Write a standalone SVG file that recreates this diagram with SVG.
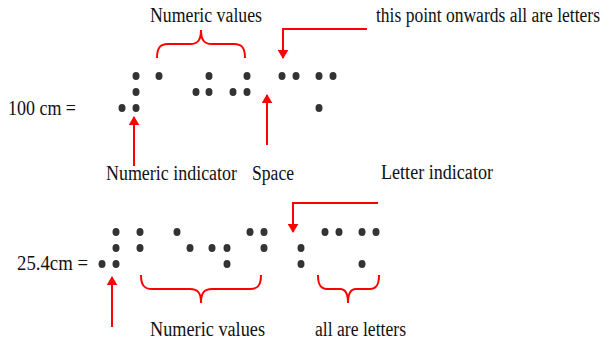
<svg xmlns="http://www.w3.org/2000/svg" width="605" height="342" viewBox="0 0 605 342">
<style>
.t{font-family:"Liberation Serif","Times New Roman",serif;font-size:20.5px;fill:#111}
.d{fill:#333}
.r{fill:none;stroke:#ff0000;stroke-width:2}
.a{fill:none;stroke:#ff0000;stroke-width:2;marker-end:url(#ah)}
</style>
<defs>
<marker id="ah" viewBox="0 0 10 12" refX="9" refY="6" markerWidth="9" markerHeight="11" markerUnits="userSpaceOnUse" orient="auto">
<path d="M0,0 L10,6 L0,12 z" fill="#ff0000"/>
</marker>
</defs>
<rect width="605" height="342" fill="#fff"/>
<g id="labels">
<text class="t" x="150" y="22" textLength="112" lengthAdjust="spacingAndGlyphs">Numeric values</text>
<text class="t" transform="translate(376,22) scale(1,1.17)" x="0" y="0" style="font-size:17.5px" textLength="224" lengthAdjust="spacingAndGlyphs">this point onwards all are letters</text>
<text class="t" x="8" y="115" textLength="68" lengthAdjust="spacingAndGlyphs">100 cm =</text>
<text class="t" x="106" y="180" textLength="131" lengthAdjust="spacingAndGlyphs">Numeric indicator</text>
<text class="t" x="252" y="180" textLength="42" lengthAdjust="spacingAndGlyphs">Space</text>
<text class="t" x="381" y="179" textLength="112" lengthAdjust="spacingAndGlyphs">Letter indicator</text>
<text class="t" x="17" y="270" textLength="71" lengthAdjust="spacingAndGlyphs">25.4cm =</text>
<text class="t" x="150" y="336" textLength="115" lengthAdjust="spacingAndGlyphs">Numeric values</text>
<text class="t" x="315" y="336" textLength="91" lengthAdjust="spacingAndGlyphs">all are letters</text>
</g>
<g id="braille-top">
<ellipse class="d" cx="136" cy="76" rx="3.5" ry="4"/>
<ellipse class="d" cx="136" cy="92" rx="3.5" ry="4"/>
<ellipse class="d" cx="136" cy="108" rx="3.5" ry="4"/>
<ellipse class="d" cx="122" cy="108" rx="3.5" ry="4"/>
<ellipse class="d" cx="159" cy="76" rx="3.5" ry="4"/>
<ellipse class="d" cx="209" cy="76" rx="3.5" ry="4"/>
<ellipse class="d" cx="196" cy="92" rx="3.5" ry="4"/>
<ellipse class="d" cx="209" cy="92" rx="3.5" ry="4"/>
<ellipse class="d" cx="247" cy="76" rx="3.5" ry="4"/>
<ellipse class="d" cx="233" cy="92" rx="3.5" ry="4"/>
<ellipse class="d" cx="247" cy="92" rx="3.5" ry="4"/>
<ellipse class="d" cx="282" cy="76" rx="3.5" ry="4"/>
<ellipse class="d" cx="296" cy="76" rx="3.5" ry="4"/>
<ellipse class="d" cx="319" cy="76" rx="3.5" ry="4"/>
<ellipse class="d" cx="333" cy="76" rx="3.5" ry="4"/>
<ellipse class="d" cx="319" cy="108" rx="3.5" ry="4"/>
</g>
<g id="braille-bottom">
<ellipse class="d" cx="116" cy="232" rx="3.5" ry="4"/>
<ellipse class="d" cx="116" cy="248" rx="3.5" ry="4"/>
<ellipse class="d" cx="116" cy="264" rx="3.5" ry="4"/>
<ellipse class="d" cx="102" cy="264" rx="3.5" ry="4"/>
<ellipse class="d" cx="140" cy="232" rx="3.5" ry="4"/>
<ellipse class="d" cx="140" cy="248" rx="3.5" ry="4"/>
<ellipse class="d" cx="177" cy="232" rx="3.5" ry="4"/>
<ellipse class="d" cx="190" cy="248" rx="3.5" ry="4"/>
<ellipse class="d" cx="212" cy="248" rx="3.5" ry="4"/>
<ellipse class="d" cx="227" cy="248" rx="3.5" ry="4"/>
<ellipse class="d" cx="227" cy="264" rx="3.5" ry="4"/>
<ellipse class="d" cx="250" cy="232" rx="3.5" ry="4"/>
<ellipse class="d" cx="264" cy="232" rx="3.5" ry="4"/>
<ellipse class="d" cx="264" cy="248" rx="3.5" ry="4"/>
<ellipse class="d" cx="301" cy="248" rx="3.5" ry="4"/>
<ellipse class="d" cx="301" cy="264" rx="3.5" ry="4"/>
<ellipse class="d" cx="325" cy="232" rx="3.5" ry="4"/>
<ellipse class="d" cx="339" cy="232" rx="3.5" ry="4"/>
<ellipse class="d" cx="362" cy="232" rx="3.5" ry="4"/>
<ellipse class="d" cx="376" cy="232" rx="3.5" ry="4"/>
<ellipse class="d" cx="362" cy="264" rx="3.5" ry="4"/>
</g>
<g id="connectors">
<path class="r" d="M157,58 C157,48 160,44 168,44 L190,44 C198,44 201,40 201,30 C201,40 204,44 212,44 L234,44 C242,44 245,48 245,58"/>
<path class="r" d="M141,275 C141,285 144,289 152,289 L190,289 C198,289 201,293 201,303 C201,293 204,289 212,289 L250,289 C258,289 261,285 261,275"/>
<path class="r" d="M318,275 C318,284 320,289 327,289 L340,289 C346,289 348,295 348,303 C348,295 350,289 356,289 L370,289 C377,289 379,284 379,275"/>
<path class="a" d="M367,29 H283 V58"/>
<path class="a" d="M134,166 V117"/>
<path class="a" d="M267,145 V95"/>
<path class="a" d="M378,203 H293 V232"/>
<path class="a" d="M112,327 V277"/>
</g>
</svg>
